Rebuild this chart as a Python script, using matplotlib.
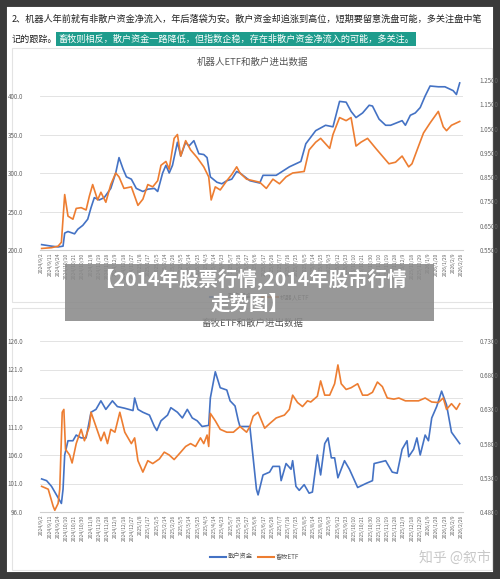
import matplotlib
matplotlib.use("Agg")
import matplotlib.pyplot as plt
from matplotlib.patches import Rectangle

plt.rcParams['font.family'] = ['Noto Sans CJK SC', 'DejaVu Sans']

dates = ["2024/9/2","2024/9/11","2024/9/24","2024/10/10","2024/10/21","2024/10/30","2024/11/8","2024/11/19",
         "2024/11/28","2024/12/9","2024/12/18","2024/12/27","2025/1/8","2025/1/17","2025/2/5","2025/2/14",
         "2025/2/26","2025/3/5","2025/3/14","2025/3/25","2025/4/3","2025/4/14","2025/4/23","2025/5/7",
         "2025/5/16","2025/5/27","2025/6/6","2025/6/17","2025/6/26","2025/7/7","2025/7/16","2025/7/25",
         "2025/8/5","2025/8/14","2025/8/25","2025/9/3","2025/9/12","2025/9/23","2025/10/10","2025/10/21",
         "2025/10/30","2025/11/10","2025/11/19","2025/11/28","2025/12/9","2025/12/18","2025/12/29",
         "2026/1/9","2026/1/20","2026/1/29","2026/2/9","2026/2/26"]

# chart 1: robot ETF (positions in tick units)
r_blue_t = [0,1.2,2.0,2.6,2.8,3.2,4.0,4.4,5.0,5.6,6.0,6.4,7.0,7.6,8.4,9.0,9.4,9.9,10.3,10.9,11.5,12.3,12.9,13.7,
            14.1,14.7,15.1,15.5,15.9,16.5,16.9,17.5,17.9,18.5,19.1,19.7,20.1,20.5,21.3,21.9,22.5,23.1,23.7,24.1,
            25.3,26.5,26.9,28.5,30.1,31.5,32.1,33.3,34.5,35.4,36.2,37.0,37.6,38.2,39.0,39.8,40.2,41.0,41.8,42.4,
            43.8,44.2,44.8,45.4,46.0,46.6,47.2,48.2,49.0,50.0,50.4,50.8]
r_blue_v = [207,205,204,205,222,224,221,227,232,240,255,268,265,268,280,300,320,305,295,292,280,276,279,280,
            276,300,310,300,310,340,322,340,335,342,325,324,320,295,288,286,290,292,302,300,
            290,287,297,297,308,315,338,355,362,360,393,392,380,372,378,388,387,370,362,362,
            368,362,375,378,385,400,413,412,412,407,402,417]
r_orange_t = [0,1.2,2.0,2.4,2.8,3.2,3.8,4.2,4.8,5.4,5.8,6.2,6.8,7.2,7.8,8.4,9.0,9.4,10.0,10.9,11.7,12.3,12.9,13.5,
              14.1,14.5,15.1,15.5,16.1,16.5,16.9,17.5,18.1,18.9,19.7,20.3,20.6,21.1,21.7,22.5,23.1,23.7,24.1,
              24.9,25.7,26.5,27.3,28.1,28.9,29.7,30.5,31.9,32.5,33.3,33.9,35.0,35.4,36.2,37.0,37.6,38.2,38.8,
              39.6,40.6,41.4,42.2,43.0,43.8,44.6,45.0,45.8,46.4,47.2,48.2,48.8,49.2,49.8,50.8]
r_orange_v = [202,203,205,210,272,244,240,254,255,252,270,285,265,275,262,285,300,295,280,282,258,266,285,282,
              290,310,315,305,345,350,322,342,330,320,308,295,265,282,278,290,298,308,300,
              292,290,288,280,292,286,295,300,302,330,340,345,332,350,372,368,372,335,340,
              345,332,322,312,314,322,308,312,335,352,365,380,360,355,362,367]

# chart 2: livestock ETF
l_blue_t = [0,0.6,1.2,1.8,2.2,2.4,2.6,2.8,3.2,3.8,4.2,4.8,5.4,6.0,6.6,7.2,7.8,8.6,9.2,10.1,11.1,11.3,11.7,12.3,
            13.1,13.7,14.0,14.5,15.3,15.7,16.5,17.1,17.7,18.3,18.9,19.5,20.3,20.5,21.1,21.7,22.5,22.9,23.5,23.9,
            24.1,25.3,25.7,26.1,26.3,26.9,27.7,28.1,28.9,29.1,29.7,30.3,30.5,30.9,31.3,31.9,32.5,32.9,33.5,33.9,
            34.4,34.8,35.2,35.6,36.0,36.8,37.4,38.4,39.4,40.2,40.4,41.8,42.6,43.2,43.8,44.4,44.6,45.2,45.6,46.0,
            46.6,47.0,47.4,48.0,48.6,49.2,49.8,50.4,50.8]
l_blue_v = [101.8,101.5,100.5,99.0,98.0,97.5,100.0,106.0,108.5,108.5,109.5,109.0,109.0,113.5,114.0,115.5,114.0,
            115.5,114.5,114.2,113.8,116.0,114.0,113.5,113.0,111.0,110.3,112.0,113.0,114.3,113.5,112.5,114.0,112.5,
            112.0,111.0,111.2,116.0,120.6,117.8,117.4,115.5,114.6,112.0,
            111.0,111.0,105.5,100.0,99.0,102.5,103.0,104.0,104.0,101.5,104.5,103.5,105.0,100.5,99.8,100.8,99.3,
            99.5,106.0,102.5,108.0,109.0,105.5,105.5,102.0,105.0,103.5,100.3,101.0,101.5,104.5,105.0,103.0,102.8,
            107.0,108.5,105.7,107.0,109.0,106.0,109.5,108.5,112.5,114.5,117.2,114.8,110.0,108.8,108.0]
l_orange_t = [0,0.8,1.4,1.6,2.0,2.2,2.5,2.7,2.9,3.4,3.7,4.2,4.8,5.2,5.8,6.0,6.6,7.2,7.6,8.0,8.4,8.9,9.5,10.1,
              10.9,11.3,11.7,12.3,12.9,13.5,14.3,14.9,15.5,16.1,16.9,17.5,18.1,18.7,19.3,19.7,20.1,20.3,20.5,
              21.1,21.7,22.5,23.3,24.1,
              24.9,25.3,25.7,26.3,27.1,27.7,28.5,29.5,30.1,30.5,31.1,31.7,32.3,32.7,33.5,33.9,34.4,35.0,35.6,36.0,
              36.4,37.0,37.6,38.4,39.0,39.6,40.2,40.8,41.4,42.0,42.8,43.4,44.2,45.0,45.8,46.6,47.4,48.2,48.8,49.2,
              49.8,50.4,50.8]
l_orange_v = [100.5,100.0,97.0,96.3,97.5,100.0,113.5,114.0,107.0,106.0,104.6,108.0,110.5,108.5,111.0,113.5,111.0,
              108.5,110.0,108.0,110.5,110.0,113.5,110.0,108.0,109.0,105.0,103.0,105.0,104.5,105.3,106.5,106.0,105.2,
              106.5,107.5,108.0,107.5,109.0,108.0,109.5,107.5,113.3,112.0,110.5,110.0,110.0,111.0,
              110.0,111.0,112.8,113.5,110.7,111.5,112.5,113.0,114.0,116.5,115.2,114.5,115.5,115.3,116.3,119.0,116.5,
              116.5,118.5,121.8,118.5,117.5,117.8,118.5,116.5,116.5,117.0,118.8,118.0,116.0,115.8,116.0,115.5,115.5,
              115.5,116.0,115.3,115.2,116.0,114.0,115.0,114.0,115.0]

BLUE = "#4472C4"
ORANGE = "#ED7D31"
W, H = 500, 579
fig = plt.figure(figsize=(W/100, H/100), dpi=100)
fig.patch.set_facecolor("white")

def px(x, y, w, h):
    return [x/W, 1-(y+h)/H, w/W, h/H]

bg = fig.add_axes([0, 0, 1, 1]); bg.set_xlim(0, W); bg.set_ylim(H, 0); bg.axis("off")
bg.add_patch(Rectangle((0, 0), W, H, fc="none", ec="#3a3a3a", lw=10))
bg.add_patch(Rectangle((12, 48), 480, 254, fc="white", ec="#e3e3e3", lw=0.8))
bg.add_patch(Rectangle((12, 308), 480, 262, fc="white", ec="#e3e3e3", lw=0.8))
bg.text(12, 19, "2、机器人年前就有非散户资金净流入，年后落袋为安。散户资金却追涨到高位，短期要留意洗盘可能，多关注盘中笔",
        fontsize=6.6, va="center", color="#222")
bg.text(12, 39, "记的跟踪。", fontsize=6.6, va="center", color="#222")
bg.text(58, 39, "畜牧则相反，散户资金一路降低，但指数企稳，存在非散户资金净流入的可能，多关注。",
        fontsize=6.6, va="center", color="white", bbox=dict(fc="#1e9c8c", ec="none", pad=1.5))
bg.text(252, 62, "机器人ETF和散户进出数据", fontsize=6.8, ha="center", va="center", color="#555")
bg.text(252, 323, "畜牧ETF和散户进出数据", fontsize=6.8, ha="center", va="center", color="#555")
bg.plot([210, 226], [557, 557], color=BLUE, lw=1.5)
bg.text(228, 557, "散户资金", fontsize=4.5, va="center", color="#555")
bg.plot([258, 274], [557, 557], color=ORANGE, lw=1.5)
bg.text(276, 557, "畜牧ETF", fontsize=4.5, va="center", color="#555")
bg.plot([210, 226], [297, 297], color=BLUE, lw=1.5)
bg.text(228, 297, "散户资金", fontsize=4.5, va="center", color="#555")
bg.plot([262, 278], [297, 297], color=ORANGE, lw=1.5)
bg.text(280, 297, "机器人ETF", fontsize=4.5, va="center", color="#555")
bg.text(455, 558, "知乎 @叙市", fontsize=10, ha="center", va="center", color="#c8c8c8")

def chart(rect, bt, bv, ot, ov, ylim, rlim, yt, rt):
    ax = fig.add_axes(rect)
    ax.plot(bt, bv, color=BLUE, lw=1.2)
    ax.plot(ot, ov, color=ORANGE, lw=1.2)
    ax.set_xlim(-0.2, 51.2)
    ax.set_ylim(*ylim)
    ax.set_yticks(yt)
    ax.set_yticklabels([f"{v:.1f}" for v in yt])
    ax.set_xticks(range(len(dates)))
    ax.set_xticklabels(dates, rotation=90, fontsize=3.6, color="#666")
    ax.grid(axis="y", color="#dedede", lw=0.6)
    ax.tick_params(axis="y", labelsize=4.5, colors="#666", length=0, pad=12)
    ax.tick_params(axis="x", length=0, pad=2)
    for s in ["top", "right", "left"]:
        ax.spines[s].set_visible(False)
    ax.spines["bottom"].set_color("#cfcfcf")
    ax2 = ax.twinx()
    ax2.set_ylim(*rlim)
    ax2.set_yticks(rt)
    ax2.set_yticklabels([f"{v:.4f}" for v in rt])
    ax2.tick_params(axis="y", labelsize=4.5, colors="#666", length=0, pad=12)
    for s in ax2.spines.values():
        s.set_visible(False)

chart(px(40, 80, 423, 170), r_blue_t, r_blue_v, r_orange_t, r_orange_v,
      (200, 420.8), (0.55, 1.25), [200, 250, 300, 350, 400],
      [0.55, 0.65, 0.75, 0.85, 0.95, 1.05, 1.15, 1.25])
chart(px(40, 341, 423, 171), l_blue_t, l_blue_v, l_orange_t, l_orange_v,
      (96, 126), (0.48, 0.73), [96, 101, 106, 111, 116, 121, 126],
      [0.48, 0.53, 0.58, 0.63, 0.68, 0.73])

ov = fig.add_axes([0, 0, 1, 1]); ov.set_xlim(0, W); ov.set_ylim(H, 0); ov.axis("off")
ov.add_patch(Rectangle((65, 264), 369, 57, fc="#8a8a8a", ec="none", alpha=0.88))
ov.text(250, 279, "【2014年股票行情,2014年股市行情", fontsize=14, fontweight="bold", color="white",
        ha="center", va="center")
ov.text(250, 304, "走势图】", fontsize=14, fontweight="bold", color="white", ha="center", va="center")

fig.savefig("out.png", dpi=100)
